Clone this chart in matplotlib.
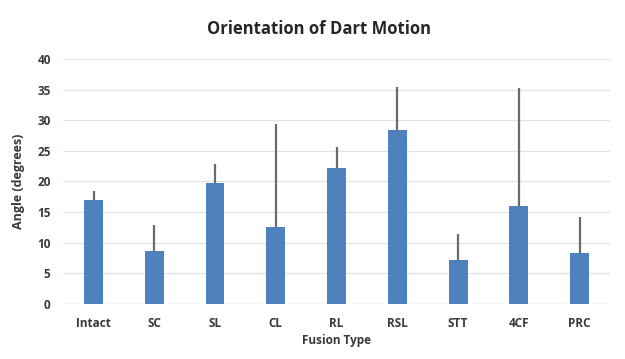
import numpy as np
import matplotlib.pyplot as plt

plt.rcParams['font.family'] = ['Open Sans', 'DejaVu Sans']

fusion = ['Intact', 'SC', 'SL', 'CL', 'RL', 'RSL', 'STT', '4CF', 'PRC']
angle = [16.9, 8.7, 19.8, 12.5, 22.2, 28.4, 7.2, 16.0, 8.3]
angle_sd = [1.5, 4.2, 3.1, 16.9, 3.5, 7.0, 4.2, 19.3, 5.9]

fig = plt.figure(figsize=(6.25, 3.59), dpi=100)
ax = fig.add_axes([0.101, 0.153, 0.875, 0.683])

x = np.arange(len(fusion))
lower = np.zeros(len(fusion))
ax.bar(x, angle, width=0.31, color='#4f81bd', zorder=2)
ax.errorbar(x, angle, yerr=[lower, angle_sd], fmt='none', ecolor='#6b6b6b',
            elinewidth=1.6, capsize=0, zorder=3)

ax.set_xlim(-0.5, len(fusion) - 0.5)
ax.set_ylim(0, 40)
ax.set_yticks(np.arange(0, 41, 5))
ax.set_xticks(x)
ax.set_xticklabels(fusion, fontsize=8.5, fontweight='bold', color='#3a3a3a')
for lbl in ax.get_yticklabels():
    lbl.set_fontsize(8.5)
    lbl.set_fontweight('bold')
    lbl.set_color('#3a3a3a')
ax.tick_params(axis='x', length=0, pad=9)
ax.tick_params(axis='y', length=0, pad=9)
ax.grid(axis='y', color='#e3e3e3', linewidth=0.9, zorder=0)
for s in ax.spines.values():
    s.set_visible(False)
ax.axhline(0, color='#d9d9d9', linewidth=0.9, zorder=1)

ax.set_xlabel('Fusion Type', fontsize=8.5, fontweight='bold', color='#3a3a3a', labelpad=3)
ax.set_ylabel('Angle (degrees)', fontsize=9, fontweight='bold', color='#3a3a3a', labelpad=9)
fig.text(0.51, 0.918, 'Orientation of Dart Motion', ha='center', va='center',
         fontsize=12, fontweight='bold', color='#262626')

fig.savefig('out.png', dpi=100)
